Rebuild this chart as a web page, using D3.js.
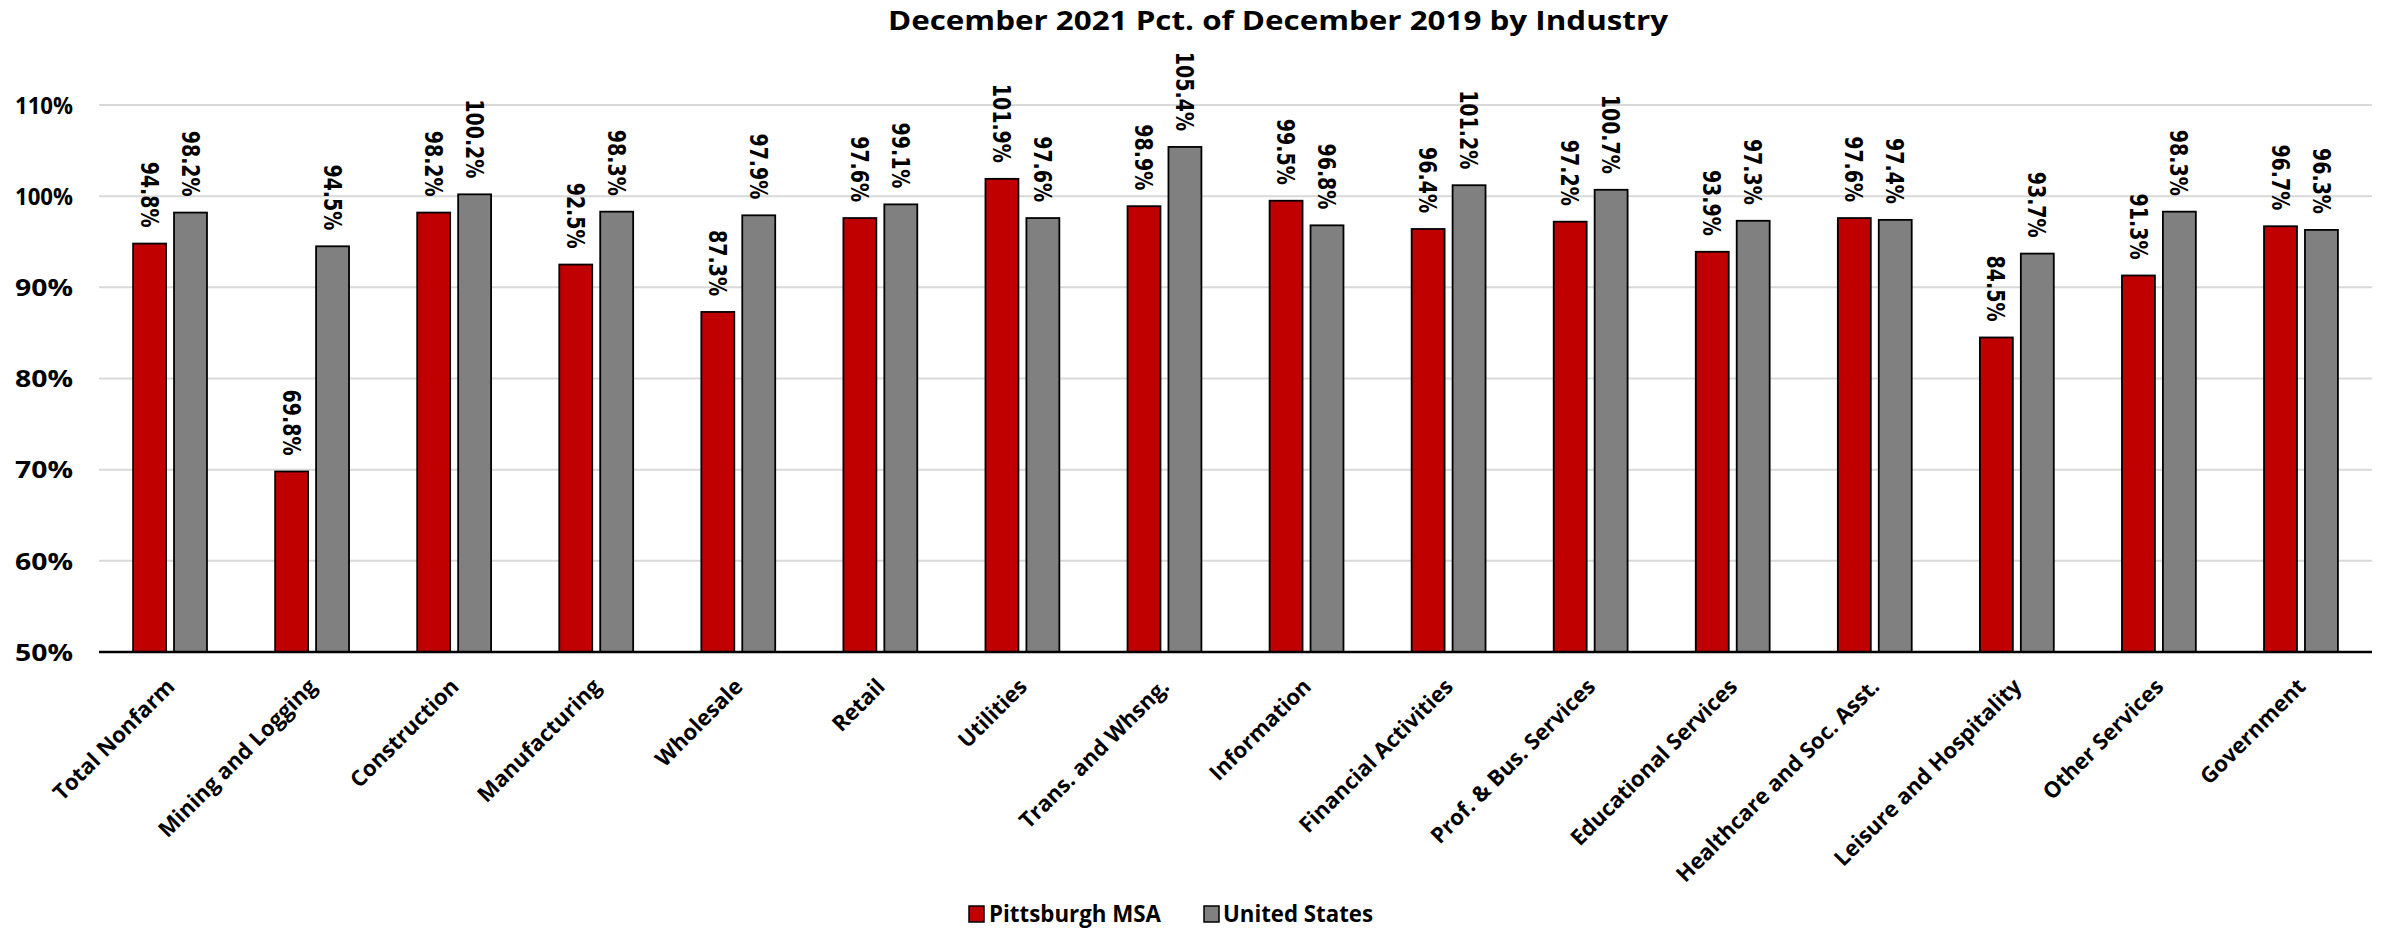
<!DOCTYPE html>
<html>
<head>
<meta charset="utf-8">
<script src="https://cdn.jsdelivr.net/npm/d3@7"></script>
<style>
  html, body { margin: 0; padding: 0; background: #ffffff; }
  svg { display: block; }
</style>
</head>
<body>
<svg id="chart" width="2389" height="929"></svg>
<script>
// Employment recovery by industry, Dec 2021 as a share of Dec 2019
const categories = [
  "Total Nonfarm", "Mining and Logging", "Construction", "Manufacturing",
  "Wholesale", "Retail", "Utilities", "Trans. and Whsng.", "Information",
  "Financial Activities", "Prof. & Bus. Services", "Educational Services",
  "Healthcare and Soc. Asst.", "Leisure and Hospitality", "Other Services",
  "Government"
];
const pittsburghMSA = [94.8, 69.8, 98.2, 92.5, 87.3, 97.6, 101.9, 98.9, 99.5, 96.4, 97.2, 93.9, 97.6, 84.5, 91.3, 96.7];
const unitedStates  = [98.2, 94.5, 100.2, 98.3, 97.9, 99.1, 97.6, 105.4, 96.8, 101.2, 100.7, 97.3, 97.4, 93.7, 98.3, 96.3];
const seriesNames = ["Pittsburgh MSA", "United States"];
const seriesColors = ["#C00000", "#808080"];
const yTicks = [50, 60, 70, 80, 90, 100, 110];
const titleText = "December 2021 Pct. of December 2019 by Industry";

const svg = d3.select("#chart");
const plot = { left: 99, right: 2372, top: 105, bottom: 652 };

const x = d3.scaleBand().domain(categories).range([plot.left, plot.right]);
const xSeries = d3.scaleBand()
  .domain(d3.range(seriesNames.length))
  .range([x.bandwidth() * 0.24, x.bandwidth() * 0.76])
  .paddingInner(0.195);
const y = d3.scaleLinear().domain([50, 110]).range([plot.bottom, plot.top]);

// Title
svg.append("text")
  .attr("x", 1278).attr("y", 30)
  .attr("text-anchor", "middle")
  .attr("textLength", 780).attr("lengthAdjust", "spacingAndGlyphs")
  .style("font-family", "'Open Sans', sans-serif")
  .style("font-weight", 700).style("font-size", "27px")
  .text(titleText);

// Horizontal gridlines
svg.append("g").selectAll("line")
  .data(yTicks.filter(t => t > 50))
  .join("line")
  .attr("x1", plot.left).attr("x2", plot.right)
  .attr("y1", d => y(d)).attr("y2", d => y(d))
  .attr("stroke", "#d9d9d9").attr("stroke-width", 2);

// Y axis labels
const yAxis = svg.append("g")
  .attr("transform", `translate(${plot.left},0)`)
  .call(d3.axisLeft(y).tickValues(yTicks).tickFormat(d => d + "%").tickSize(0).tickPadding(26));
yAxis.select(".domain").remove();
yAxis.selectAll("text")
  .attr("dy", "0.36em")
  .attr("textLength", 58).attr("lengthAdjust", "spacingAndGlyphs")
  .style("font-family", "'Open Sans', sans-serif")
  .style("font-weight", 700).style("font-size", "23px").attr("fill", "#000");

// Bars
const rows = categories.map((c, i) => ({ cat: c, values: [pittsburghMSA[i], unitedStates[i]] }));
const groups = svg.append("g").selectAll("g")
  .data(rows)
  .join("g")
  .attr("transform", d => `translate(${x(d.cat)},0)`);

groups.selectAll("rect")
  .data(d => d.values.map((v, s) => ({ v, s })))
  .join("rect")
  .attr("x", d => xSeries(d.s))
  .attr("width", xSeries.bandwidth())
  .attr("y", d => y(d.v))
  .attr("height", d => y(50) - y(d.v))
  .attr("fill", d => seriesColors[d.s])
  .attr("stroke", "#000").attr("stroke-width", 1.8);

// Value labels, rotated to read downward
groups.selectAll("text.value")
  .data(d => d.values.map((v, s) => ({ v, s })))
  .join("text")
  .attr("class", "value")
  .attr("transform", d => `translate(${xSeries(d.s) + xSeries.bandwidth() / 2},${y(d.v) - 16}) rotate(90) scale(1,1.3)`)
  .attr("text-anchor", "end")
  .attr("dy", "0.36em")
  .style("font-family", "'DejaVu Sans', sans-serif")
  .style("font-weight", 700).style("font-size", "19px")
  .text(d => d.v.toFixed(1) + "%");

// Baseline axis with category labels
const xAxis = svg.append("g")
  .attr("transform", `translate(0,${plot.bottom})`)
  .call(d3.axisBottom(x).tickSize(0).tickPadding(0));
xAxis.select(".domain").remove();
xAxis.selectAll("text")
  .attr("y", 0).attr("dy", 0)
  .attr("transform", "translate(6,36) rotate(-45)")
  .attr("text-anchor", "end")
  .style("font-family", "'Open Sans', sans-serif")
  .style("font-weight", 700).style("font-size", "22px").attr("fill", "#000");
svg.append("line")
  .attr("x1", plot.left).attr("x2", plot.right)
  .attr("y1", plot.bottom).attr("y2", plot.bottom)
  .attr("stroke", "#000").attr("stroke-width", 2.5);

// Legend
const legendItems = [
  { name: seriesNames[0], color: seriesColors[0], box: 969, tx: 989, w: 172 },
  { name: seriesNames[1], color: seriesColors[1], box: 1204, tx: 1223, w: 150 }
];
const legend = svg.append("g");
legend.selectAll("rect")
  .data(legendItems).join("rect")
  .attr("x", d => d.box).attr("y", 906)
  .attr("width", 15).attr("height", 16)
  .attr("fill", d => d.color).attr("stroke", "#000").attr("stroke-width", 1.5);
legend.selectAll("text")
  .data(legendItems).join("text")
  .attr("x", d => d.tx).attr("y", 922)
  .attr("textLength", d => d.w).attr("lengthAdjust", "spacingAndGlyphs")
  .style("font-family", "'Open Sans', sans-serif")
  .style("font-weight", 700).style("font-size", "23px")
  .text(d => d.name);
</script>
</body>
</html>
